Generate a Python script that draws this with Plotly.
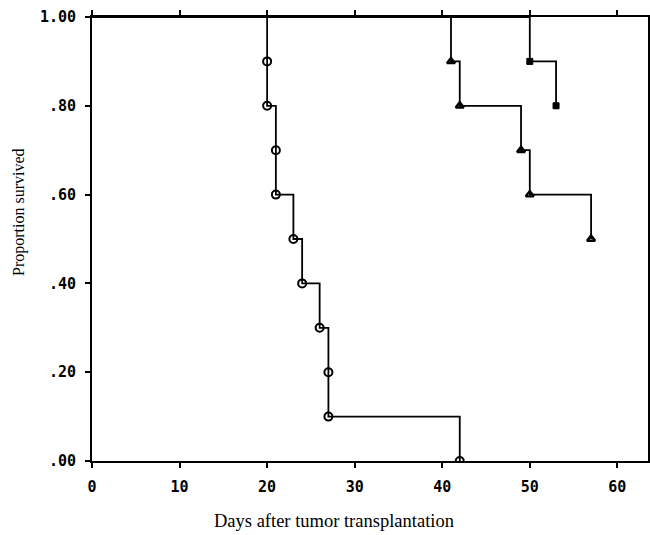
import plotly.graph_objects as go

# Kaplan-Meier style survival data (days, proportion surviving)
control_days = [0, 20, 20, 21, 21, 23, 24, 26, 27, 27, 42]
control_surv = [1.0, 0.9, 0.8, 0.7, 0.6, 0.5, 0.4, 0.3, 0.2, 0.1, 0.0]

tri_days = [0, 41, 42, 49, 50, 57]
tri_surv = [1.0, 0.9, 0.8, 0.7, 0.6, 0.5]

sq_days = [0, 50, 53]
sq_surv = [1.0, 0.9, 0.8]

x_ticks = [0, 10, 20, 30, 40, 50, 60]
y_ticks = [0.0, 0.2, 0.4, 0.6, 0.8, 1.0]
y_ticklabels = [".00", ".20", ".40", ".60", ".80", "1.00"]

fig = go.Figure()

groups = [
    (control_days, control_surv, dict(symbol="circle-open", size=8, color="black", line=dict(width=2, color="black"))),
    (tri_days, tri_surv, dict(symbol="triangle-up-open", size=7, color="black", line=dict(width=2.4, color="black"))),
    (sq_days, sq_surv, dict(symbol="square", size=6, color="black", line=dict(width=1, color="black"))),
]

for xs, ys, mk in groups:
    fig.add_trace(go.Scatter(x=xs, y=ys, mode="lines", line=dict(shape="hv", color="black", width=1.8),
                             showlegend=False, hoverinfo="skip"))
    fig.add_trace(go.Scatter(x=xs[1:], y=ys[1:], mode="markers", marker=mk, showlegend=False))

fig.update_layout(
    width=650, height=535,
    margin=dict(l=92, r=2, t=17, b=74),
    paper_bgcolor="white", plot_bgcolor="white",
    showlegend=False,
)

tickfont = dict(family="DejaVu Sans Mono", size=15, color="black", weight="bold")

fig.update_xaxes(
    range=[0, 63.5], tickvals=x_ticks, ticktext=[str(v) for v in x_ticks],
    showgrid=False, zeroline=False, showline=True, linecolor="black", linewidth=2,
    mirror="ticks", ticks="outside", ticklen=5, tickwidth=1.5, tickcolor="black",
    tickfont=tickfont, ticklabelstandoff=6, automargin=False,
)
fig.update_yaxes(
    range=[0, 1.0], tickvals=y_ticks, ticktext=y_ticklabels,
    showgrid=False, zeroline=False, showline=True, linecolor="black", linewidth=2,
    mirror="ticks", ticks="outside", ticklen=5, tickwidth=1.5, tickcolor="black",
    tickfont=tickfont, ticklabelstandoff=6, automargin=False,
)

fig.add_annotation(text="Days after tumor transplantation", xref="paper", yref="paper",
                   x=(334 - 92) / 556, y=-(521 - 461) / 444, showarrow=False,
                   xanchor="center", yanchor="middle",
                   font=dict(family="Liberation Serif", size=18.5, color="black"))
fig.add_annotation(text="Proportion survived", xref="paper", yref="paper",
                   x=-(92 - 19) / 556, y=(461 - 212) / 444, showarrow=False, textangle=-90,
                   xanchor="center", yanchor="middle",
                   font=dict(family="Liberation Serif", size=16, color="black"))

fig.write_html("out.html", config={"displayModeBar": False},
               post_script="document.body.style.margin='0px';document.body.style.overflow='hidden';")
